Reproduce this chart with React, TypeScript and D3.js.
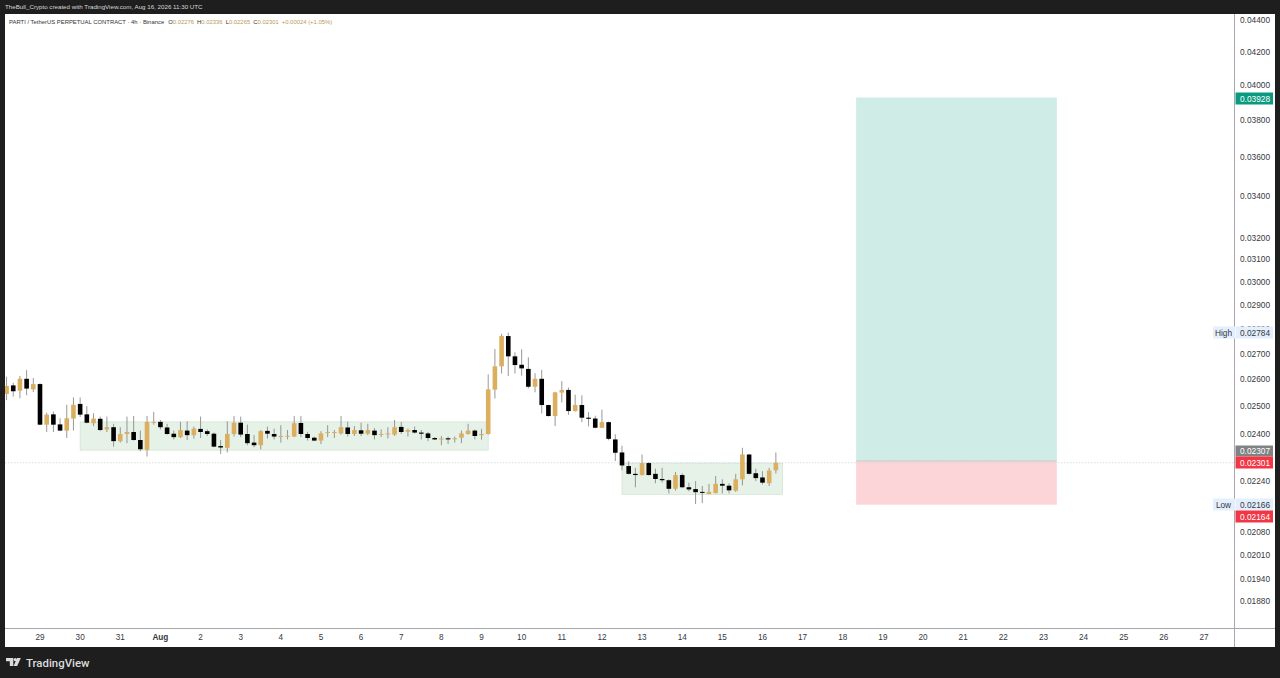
import React from "react";
import * as d3 from "d3";

const opens = [
  0.02545,0.02577,0.02557,0.02602,0.02562,0.02582,0.02433,0.0247,0.02434,0.02412,
  0.02455,0.02508,0.0247,0.02438,0.02454,0.02416,0.02424,0.02375,0.024,0.02407,
  0.02379,0.02345,0.0244,0.02443,0.02423,0.02401,0.02389,0.02412,0.02396,0.02418,
  0.0241,0.02401,0.02358,0.02352,0.024,0.0244,0.024,0.0237,0.02361,0.02411,
  0.024,0.02391,0.02391,0.02391,0.02439,0.024,0.02387,0.02377,0.02404,0.02405,
  0.02402,0.02423,0.024,0.02413,0.02401,0.02412,0.02398,0.024,0.02398,0.02425,
  0.02408,0.02414,0.02405,0.02402,0.02386,0.02381,0.02385,0.02383,0.02387,0.024,
  0.02412,0.02396,0.024,0.02561,0.0265,0.0277,0.02689,0.02656,0.0264,0.02572,
  0.02602,0.02504,0.02464,0.0255,0.0256,0.02482,0.02504,0.02458,0.02455,0.02422,
  0.02442,0.02381,0.02336,0.0229,0.02264,0.0226,0.023,0.02264,0.02247,0.02243,
  0.02215,0.0226,0.0222,0.02214,0.02205,0.02198,0.02201,0.02231,0.02225,0.02209,
  0.02246,0.02329,0.02266,0.02252,0.02233,0.02276,
];
const highs = [
  0.0261,0.02587,0.02613,0.02636,0.02605,0.02585,0.02476,0.0248,0.02456,0.02505,
  0.02532,0.02532,0.025,0.02474,0.02462,0.02462,0.02436,0.02424,0.02462,0.02464,
  0.02412,0.02464,0.02479,0.0245,0.02436,0.02412,0.02443,0.02445,0.02426,0.02462,
  0.02416,0.02405,0.02379,0.02445,0.02464,0.02462,0.02433,0.02396,0.02414,0.02426,
  0.02419,0.02431,0.02414,0.02464,0.02464,0.02408,0.02391,0.0241,0.02431,0.02414,
  0.02464,0.02444,0.02428,0.0244,0.02436,0.02421,0.02416,0.02424,0.0245,0.02443,
  0.02419,0.02426,0.02414,0.02407,0.02389,0.02393,0.02391,0.02391,0.02412,0.02436,
  0.02416,0.02418,0.02619,0.02718,0.02779,0.02784,0.02705,0.02717,0.02685,0.02623,
  0.02636,0.02505,0.02553,0.02593,0.02569,0.02542,0.0254,0.02478,0.02465,0.02487,
  0.02444,0.02399,0.02359,0.02306,0.02284,0.02329,0.02303,0.02281,0.02284,0.02246,
  0.0227,0.02266,0.02235,0.0224,0.02224,0.02231,0.02257,0.02246,0.02233,0.02264,
  0.02352,0.02331,0.02281,0.02273,0.02284,0.02336,
];
const lows = [
  0.02522,0.02535,0.02529,0.0254,0.02552,0.02431,0.02407,0.02407,0.0241,0.02386,
  0.02412,0.0246,0.02438,0.02428,0.0241,0.02407,0.02356,0.0237,0.02368,0.02377,
  0.0234,0.02322,0.02433,0.02416,0.02398,0.02381,0.02386,0.02379,0.02384,0.02386,
  0.02393,0.02354,0.02331,0.02336,0.02391,0.02389,0.02361,0.02354,0.02347,0.02384,
  0.02381,0.0237,0.02381,0.02389,0.02389,0.02377,0.02375,0.02365,0.02389,0.02386,
  0.02398,0.02391,0.02393,0.02393,0.02396,0.02381,0.02389,0.02384,0.02393,0.024,
  0.02391,0.02402,0.02381,0.02375,0.02379,0.02361,0.02365,0.0237,0.02368,0.02398,
  0.02381,0.0238,0.02398,0.02528,0.02622,0.02613,0.02622,0.02614,0.02566,0.02551,
  0.02473,0.02462,0.02428,0.02514,0.02468,0.0248,0.02442,0.02427,0.0242,0.02421,
  0.02378,0.02307,0.02276,0.02262,0.0222,0.02259,0.02259,0.02233,0.02235,0.022,
  0.02209,0.02217,0.02207,0.02166,0.02169,0.02197,0.022,0.022,0.022,0.02205,
  0.02226,0.02262,0.0224,0.02229,0.02224,0.02265,
];
const closes = [
  0.02575,0.02555,0.02602,0.02565,0.02582,0.02433,0.02469,0.02433,0.02412,0.02456,
  0.02505,0.02469,0.0244,0.02455,0.02414,0.02424,0.02375,0.024,0.02407,0.02379,
  0.02347,0.02443,0.02443,0.02424,0.024,0.02389,0.02414,0.02396,0.02419,0.02407,
  0.024,0.02356,0.02353,0.024,0.0244,0.02398,0.02368,0.02361,0.0241,0.02401,
  0.02391,0.02393,0.02394,0.02438,0.024,0.02386,0.02377,0.02402,0.02407,0.02407,
  0.02424,0.024,0.02414,0.02401,0.02414,0.02396,0.024,0.02402,0.02424,0.02407,
  0.02414,0.02405,0.02401,0.02386,0.02381,0.02384,0.02381,0.02385,0.02402,0.02412,
  0.02393,0.024,0.02562,0.0265,0.0277,0.02689,0.02655,0.02642,0.02572,0.02602,
  0.02504,0.02464,0.02551,0.0256,0.02482,0.02504,0.02458,0.02454,0.02422,0.02442,
  0.02383,0.02335,0.02292,0.02264,0.0226,0.023,0.0226,0.02247,0.02243,0.02215,
  0.0226,0.0222,0.02213,0.02204,0.02202,0.02205,0.02231,0.02225,0.0221,0.02246,
  0.02329,0.02264,0.0225,0.02235,0.02275,0.02301,
];

const priceTicks = [0.044,0.042,0.04,0.038,0.036,0.034,0.032,0.031,0.03,0.029,0.028,0.027,0.026,0.025,0.024,0.0224,0.0208,0.0201,0.0194,0.0188];
const dayLabels = ["29","30","31","Aug","2","3","4","5","6","7","8","9","10","11","12","13","14","15","16","17","18","19","20","21","22","23","24","25","26","27"];

const firstDay = Date.UTC(2026, 6, 29);
const lastDay = Date.UTC(2026, 7, 27);
const firstCandle = Date.UTC(2026, 6, 28, 4);
const HOUR = 3600000;
const DAY = 24 * HOUR;

const consolidationA = { from: Date.UTC(2026, 6, 30), to: Date.UTC(2026, 7, 9, 4), top: 0.02443, bottom: 0.02344 };
const consolidationB = { from: Date.UTC(2026, 7, 12, 12), to: Date.UTC(2026, 7, 16, 12), top: 0.023, bottom: 0.02197 };
const position = { from: Date.UTC(2026, 7, 18, 8), to: Date.UTC(2026, 7, 23, 8), target: 0.03928, entry: 0.02307, stop: 0.02164 };
const lastPrice = 0.02301;

const UP = "#dcae5f";
const DOWN = "#000000";
const FONT = "'Liberation Sans', Arial, sans-serif";
const TEXT = "#36383c";

const x = d3.scaleUtc().domain([firstDay, lastDay]).range([40, 1204]);
const y = d3.scaleLog().domain([0.024, 0.044]).range([434, 20]);

const PriceTag = ({ price, top, fill, color, h = 12 }: any) => (
  <g>
    <rect x={1235.5} y={top} width={37.5} height={h} fill={fill} />
    <text x={1255} y={top + h / 2 + 3} textAnchor="middle" fontSize={8.3} fill={color} fontFamily={FONT}>{price}</text>
  </g>
);

export default function App() {
  const bw = 4.6;
  return (
    <svg width={1280} height={678} style={{ position: "fixed", left: 0, top: 0, display: "block" }}>
      <defs>
        <clipPath id="plot"><rect x={5} y={14} width={1229} height={614} /></clipPath>
      </defs>
      <rect width={1280} height={678} fill="#1e1e1e" />
      <rect x={5} y={14} width={1270} height={633} fill="#ffffff" />

      <text x={5} y={8.5} fontSize={6.2} fill="#d8d8d8" fontFamily={FONT}>TheBull_Crypto created with TradingView.com, Aug 16, 2026 11:30 UTC</text>

      <g clipPath="url(#plot)">
        {[consolidationA, consolidationB].map((b, i) => (
          <rect key={i} x={x(b.from)} y={y(b.top)} width={x(b.to) - x(b.from)} height={y(b.bottom) - y(b.top)}
            fill="#e6f1e7" stroke="#cfe2d1" strokeWidth={0.7} />
        ))}
        <rect x={x(position.from)} y={y(position.target)} width={x(position.to) - x(position.from)}
          height={y(position.entry) - y(position.target)} fill="#cfece6" />
        <rect x={x(position.from)} y={y(position.entry)} width={x(position.to) - x(position.from)}
          height={y(position.stop) - y(position.entry)} fill="#fcd5d9" />
        <line x1={x(position.from)} x2={x(position.to)} y1={y(position.entry)} y2={y(position.entry)} stroke="#c4a9ab" strokeWidth={0.5} />
        <line x1={5} x2={1234} y1={y(lastPrice)} y2={y(lastPrice)} stroke="#d4d6da" strokeWidth={0.8} strokeDasharray="1.5 1.5" />

        {opens.map((o, i) => {
          const cx = x(firstCandle + i * 4 * HOUR);
          const c = closes[i];
          const top = y(Math.max(o, c));
          const bot = y(Math.min(o, c));
          return (
            <g key={i}>
              <line x1={cx} x2={cx} y1={y(highs[i])} y2={y(lows[i])} stroke="#8c8c8c" strokeWidth={0.9} />
              <rect x={cx - bw / 2} y={top} width={bw} height={Math.max(bot - top, 1)} fill={c >= o ? UP : DOWN} />
            </g>
          );
        })}
      </g>

      <line x1={1234.5} x2={1234.5} y1={14} y2={647} stroke="#a6a8ad" strokeWidth={1} />
      <line x1={5} x2={1275} y1={628.5} y2={628.5} stroke="#a6a8ad" strokeWidth={1} />

      <text x={9} y={23.5} fontSize={5.9} fontFamily={FONT} fill="#333">
        PARTI / TetherUS PERPETUAL CONTRACT · 4h · Binance
        <tspan dx={4} fill="#333">O</tspan><tspan fill="#b99a58">0.02276</tspan>
        <tspan dx={3} fill="#333">H</tspan><tspan fill="#b99a58">0.02336</tspan>
        <tspan dx={3} fill="#333">L</tspan><tspan fill="#b99a58">0.02265</tspan>
        <tspan dx={3} fill="#333">C</tspan><tspan fill="#b99a58">0.02301</tspan>
        <tspan dx={3} fill="#b99a58">+0.00024 (+1.05%)</tspan>
      </text>

      {priceTicks.map((p) => (
        <text key={p} x={1255} y={y(p) + 3} textAnchor="middle" fontSize={8.3} fill={TEXT} fontFamily={FONT}>{p.toFixed(5)}</text>
      ))}

      {dayLabels.map((d, i) => (
        <text key={d} x={x(firstDay + i * DAY)} y={640} textAnchor="middle" fontSize={8.2} fontWeight={d === "Aug" ? 700 : 400}
          fill={TEXT} fontFamily={FONT}>{d}</text>
      ))}

      <PriceTag price="0.03928" top={92.5} fill="#0a9a80" color="#ffffff" />
      <PriceTag price="0.02784" top={326.5} fill="#e3effc" color={TEXT} />
      <rect x={1213} y={326.5} width={22} height={12} fill="#e3effc" />
      <text x={1223.5} y={335.5} textAnchor="middle" fontSize={8.3} fill={TEXT} fontFamily={FONT}>High</text>
      <PriceTag price="0.02307" top={445.5} fill="#808284" color="#ffffff" h={11} />
      <PriceTag price="0.02301" top={456.5} fill="#f23645" color="#ffffff" />
      <PriceTag price="0.02166" top={498.5} fill="#e3effc" color={TEXT} />
      <rect x={1213} y={498.5} width={22} height={12} fill="#e3effc" />
      <text x={1223.5} y={507.5} textAnchor="middle" fontSize={8.3} fill={TEXT} fontFamily={FONT}>Low</text>
      <PriceTag price="0.02164" top={510.5} fill="#f23645" color="#ffffff" />

      <g fill="#dcdcdc">
        <path d="M6 658 H13.3 V666 H9.8 V661.2 H6 Z" />
        <circle cx={15.2} cy={659.6} r={1.6} />
        <path d="M17 658 H20.8 L17.2 666 H13.6 Z" />
      </g>
      <text x={26} y={666.5} fontSize={11.4} fontWeight={500} fill="#dcdcdc" fontFamily="Roboto, sans-serif">TradingView</text>
    </svg>
  );
}
